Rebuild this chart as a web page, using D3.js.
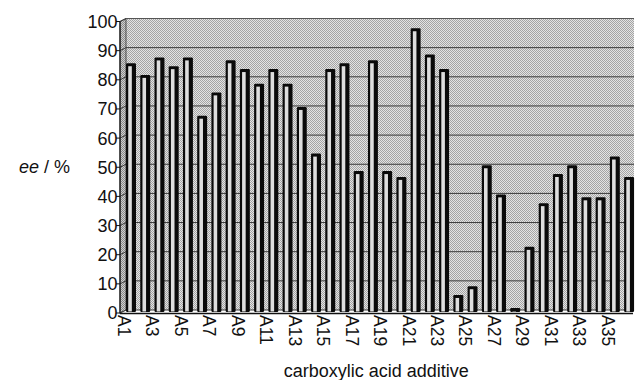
<!DOCTYPE html>
<html><head><meta charset="utf-8">
<script src="https://cdn.jsdelivr.net/npm/d3@7"></script>
<style>
html,body{margin:0;padding:0;background:#fff;}
svg{display:block;font-family:"Liberation Sans",Arial,sans-serif;}
</style></head>
<body>
<svg id="chart" width="635" height="380"></svg>
<script>
const categories = ["A1","A2","A3","A4","A5","A6","A7","A8","A9","A10","A11","A12","A13","A14","A15","A16","A17","A18","A19","A20","A21","A22","A23","A24","A25","A26","A27","A28","A29","A30","A31","A32","A33","A34","A35","A36"];
const eeValues = [85,81,87,84,87,67,75,86,83,78,83,78,70,54,83,85,48,86,48,46,97,88,83,5.5,8.5,50,40,1,22,37,47,50,39,39,53,46];
const yTicks = [0,10,20,30,40,50,60,70,80,90,100];
const xTickLabels = ["A1","A3","A5","A7","A9","A11","A13","A15","A17","A19","A21","A23","A25","A27","A29","A31","A33","A35"];
const yTitleItalic = "ee";
const yTitleRest = " / %";
const xTitle = "carboxylic acid additive";

const svg = d3.select("#chart");
const defs = svg.append("defs");
const pat = defs.append("pattern").attr("id","dither").attr("width",2).attr("height",2).attr("patternUnits","userSpaceOnUse");
pat.append("rect").attr("width",2).attr("height",2).attr("fill","#e4e4e4");
pat.append("rect").attr("x",0).attr("y",0).attr("width",1).attr("height",1).attr("fill","#a4a4a4");
pat.append("rect").attr("x",1).attr("y",1).attr("width",1).attr("height",1).attr("fill","#a4a4a4");
const pat2 = defs.append("pattern").attr("id","dither2").attr("width",2).attr("height",2).attr("patternUnits","userSpaceOnUse");
pat2.append("rect").attr("width",2).attr("height",2).attr("fill","#d0d0d0");
pat2.append("rect").attr("x",0).attr("y",0).attr("width",1).attr("height",1).attr("fill","#8a8a8a");
pat2.append("rect").attr("x",1).attr("y",1).attr("width",1).attr("height",1).attr("fill","#8a8a8a");

const axisX = 120, depthX = 6, depthY = 3;
const wallRight = 634;
const y = d3.scaleLinear().domain([0,100]).range([312, 20.5]);
const x = d3.scaleBand().domain(categories).range([123.9, 636.2]).paddingInner(0.3).paddingOuter(0.15);

// back wall
svg.append("rect").attr("x",axisX+depthX).attr("y",y(100)-depthY+1).attr("width",wallRight-axisX-depthX)
  .attr("height",y(0)-y(100)).attr("fill","url(#dither)");
// left wall
svg.append("path").attr("d",`M${axisX},${y(100)+1}L${axisX+depthX},${y(100)-depthY+1}L${axisX+depthX},${y(0)-depthY+1}L${axisX},${y(0)+1}Z`)
  .attr("fill","url(#dither2)").attr("stroke","#333").attr("stroke-width",0.8);

// gridlines
const grid = svg.append("g");
yTicks.forEach(v=>{
  const yy = y(v)-depthY+1;
  grid.append("line").attr("x1",axisX+depthX).attr("x2",wallRight).attr("y1",yy).attr("y2",yy)
    .attr("stroke", v===100 ? "#555" : "#3a3a3a").attr("stroke-width",1);
  grid.append("line").attr("x1",axisX).attr("x2",axisX+depthX).attr("y1",y(v)+1).attr("y2",yy)
    .attr("stroke","#3a3a3a").attr("stroke-width",1);
});

// floor
svg.append("line").attr("x1",axisX).attr("x2",wallRight-1).attr("y1",y(0)+1.5).attr("y2",y(0)+1.5).attr("stroke","#111").attr("stroke-width",1.5);

// bars
const bars = svg.append("g");
categories.forEach((c,i)=>{
  const v = eeValues[i];
  const bx = x(c), bw = x.bandwidth();
  const top = y(v);
  bars.append("rect").attr("x",bx).attr("y",top-1).attr("width",bw).attr("height",Math.max(y(0)-top+1,2))
    .attr("fill","#0a0a0a").attr("rx",1.2);
  const ih = y(0)-top-2.5;
  if (ih > 0) {
    bars.append("rect").attr("x",bx+2.2).attr("y",top+2).attr("width",bw*0.36).attr("height",ih)
      .attr("fill","#dedede");
  }
});

// y axis
svg.append("line").attr("x1",axisX).attr("x2",axisX).attr("y1",y(100)+1).attr("y2",y(0)+1.5).attr("stroke","#111").attr("stroke-width",1.2);
const ya = svg.append("g");
yTicks.forEach(v=>{
  ya.append("line").attr("x1",axisX-4).attr("x2",axisX).attr("y1",y(v)+1).attr("y2",y(v)+1).attr("stroke","#111");
  ya.append("text").attr("x",axisX-2.5).attr("y",y(v)+1).attr("dy","0.36em").attr("text-anchor","end")
    .attr("font-size",18).attr("fill","#111").text(v);
});

// x tick labels
const xa = svg.append("g");
xTickLabels.forEach(lbl=>{
  const cx = x(lbl) - 1.8;
  xa.append("text").attr("transform",`translate(${cx},315) rotate(90)`).attr("dy","0.36em")
    .attr("text-anchor","start").attr("font-size",17.5).attr("fill","#111").text(lbl);
});

// titles
const yt = svg.append("text").attr("x",19).attr("y",173).attr("font-size",18).attr("fill","#111");
yt.append("tspan").attr("font-style","italic").text(yTitleItalic);
yt.append("tspan").text(yTitleRest);
svg.append("text").attr("x",376.3).attr("y",377).attr("text-anchor","middle").attr("font-size",18).attr("fill","#111").text(xTitle);
</script>
</body></html>
